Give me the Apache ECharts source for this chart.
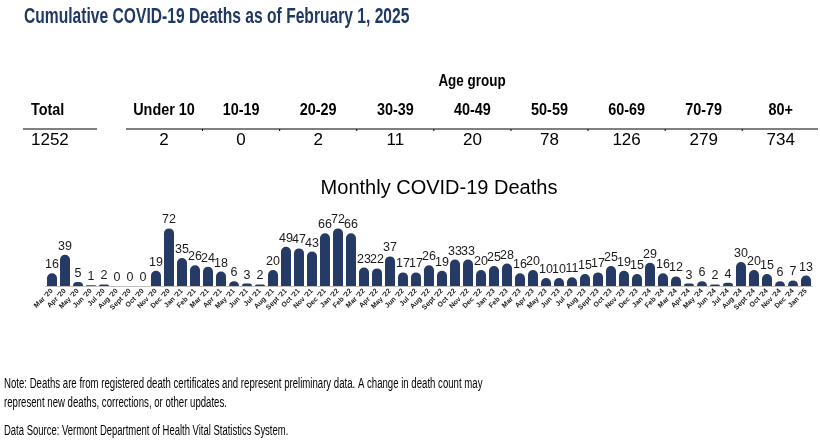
<!DOCTYPE html>
<html>
<head>
<meta charset="utf-8">
<script src="https://cdn.jsdelivr.net/npm/echarts@6/dist/echarts.min.js"></script>
<style>
  html, body { margin: 0; padding: 0; background: #fff; }
  #chart { width: 820px; height: 441px; }
</style>
</head>
<body>
<div id="chart"></div>
<script>
// cumulative table
const totalDeaths = 1252;
const ageGroups = ['Under 10', '10-19', '20-29', '30-39', '40-49', '50-59', '60-69', '70-79', '80+'];
const ageDeaths = [2, 0, 2, 11, 20, 78, 126, 279, 734];

// monthly bars
const months = [
  "Mar '20", "Apr '20", "May '20", "Jun '20", "Jul '20", "Aug '20", "Sept '20", "Oct '20", "Nov '20", "Dec '20",
  "Jan '21", "Feb '21", "Mar '21", "Apr '21", "May '21", "Jun '21", "Jul '21", "Aug '21", "Sept '21", "Oct '21", "Nov '21", "Dec '21",
  "Jan '22", "Feb '22", "Mar '22", "Apr '22", "May '22", "Jun '22", "Jul '22", "Aug '22", "Sept '22", "Oct '22", "Nov '22", "Dec '22",
  "Jan '23", "Feb '23", "Mar '23", "Apr '23", "May '23", "Jun '23", "Jul '23", "Aug '23", "Sept '23", "Oct '23", "Nov '23", "Dec '23",
  "Jan '24", "Feb '24", "Mar '24", "Apr '24", "May '24", "Jun '24", "Jul '24", "Aug '24", "Sept '24", "Oct '24", "Nov '24", "Dec '24",
  "Jan '25"
];
const monthlyDeaths = [
  16, 39, 5, 1, 2, 0, 0, 0, 19, 72,
  35, 26, 24, 18, 6, 3, 2, 20, 49, 47, 43, 66,
  72, 66, 23, 22, 37, 17, 17, 26, 19, 33, 33, 20,
  25, 28, 16, 20, 10, 10, 11, 15, 17, 25, 19, 15,
  29, 16, 12, 3, 6, 2, 4, 30, 20, 15, 6, 7,
  13
];

const noteLines = [
  'Note: Deaths are from registered death certificates and represent preliminary data. A change in death count may',
  'represent new deaths, corrections, or other updates.'
];
const sourceText = 'Data Source: Vermont Department of Health Vital Statistics System.';

// no condensed face installed, so text gets squeezed with scaleX
const fam = '"Liberation Sans", Arial, sans-serif';
const navy = '#253b66';

const chart = echarts.init(document.getElementById('chart'));

const txt = (text, x, y, font, opts = {}) => ({
  type: 'text',
  x: x,
  y: y,
  scaleX: opts.scaleX || 1,
  style: {
    text: text,
    font: font,
    fill: opts.fill || '#000',
    align: opts.align || 'left',
    verticalAlign: 'middle'
  }
});

// table layout
const colStart = 164;
const colStep = 77.1;
const headerY = 111;
const valueY = 140;
const ruleY = 129;

const g = [];
g.push(txt('Cumulative COVID-19 Deaths as of February 1, 2025', 24, 17, 'bold 22px ' + fam, { scaleX: 0.71, fill: '#1f3864' }));
g.push(txt('Age group', 472, 82, 'bold 16px ' + fam, { scaleX: 0.84, align: 'center' }));
g.push(txt('Total', 31, headerY, 'bold 16px ' + fam, { scaleX: 0.9 }));
g.push(txt(String(totalDeaths), 31, valueY, '17px ' + fam, { scaleX: 1 }));
g.push({ type: 'line', shape: { x1: 23, y1: ruleY, x2: 97, y2: ruleY }, style: { stroke: '#000', lineWidth: 1 } });
g.push({ type: 'line', shape: { x1: 126, y1: ruleY, x2: 818, y2: ruleY }, style: { stroke: '#000', lineWidth: 1 } });
ageGroups.forEach((name, i) => {
  const cx = colStart + i * colStep;
  g.push(txt(name, cx, headerY, 'bold 16px ' + fam, { scaleX: 0.9, align: 'center' }));
  g.push(txt(String(ageDeaths[i]), cx, valueY, '17px ' + fam, { scaleX: 1, align: 'center' }));
  if (i < ageGroups.length - 1) {
    g.push({
      type: 'line',
      shape: { x1: cx + colStep / 2, y1: ruleY, x2: cx + colStep / 2, y2: ruleY + 2 },
      style: { stroke: '#000', lineWidth: 1 }
    });
  }
});
g.push(txt('Monthly COVID-19 Deaths', 439, 188, '20px ' + fam, { align: 'center' }));
noteLines.forEach((line, i) => {
  g.push(txt(line, 4, 384 + i * 19, '14px ' + fam, { scaleX: 0.687 }));
});
g.push(txt(sourceText, 4, 431, '14px ' + fam, { scaleX: 0.677 }));

const option = {
  backgroundColor: '#fff',
  animation: false,
  graphic: g,
  grid: { left: 45.5, right: 7.5, top: 214, height: 72 },
  xAxis: {
    type: 'category',
    data: months,
    axisLine: { show: true, lineStyle: { color: '#bfbfbf', width: 1 } },
    axisTick: { show: false },
    axisLabel: {
      interval: 0,
      rotate: 45,
      margin: 4,
      fontSize: 7,
      fontWeight: 'bold',
      fontFamily: fam,
      color: '#222'
    }
  },
  yAxis: {
    type: 'value',
    min: 0,
    max: 90,
    show: false,
    splitLine: { show: false }
  },
  series: [
    {
      type: 'bar',
      data: monthlyDeaths,
      barCategoryGap: '23%',
      itemStyle: { color: navy, borderRadius: [5, 5, 0, 0] },
      label: {
        show: true,
        position: 'top',
        distance: 2,
        fontSize: 12.5,
        fontFamily: fam,
        color: '#1a1a1a'
      }
    }
  ]
};

chart.setOption(option);
</script>
</body>
</html>
